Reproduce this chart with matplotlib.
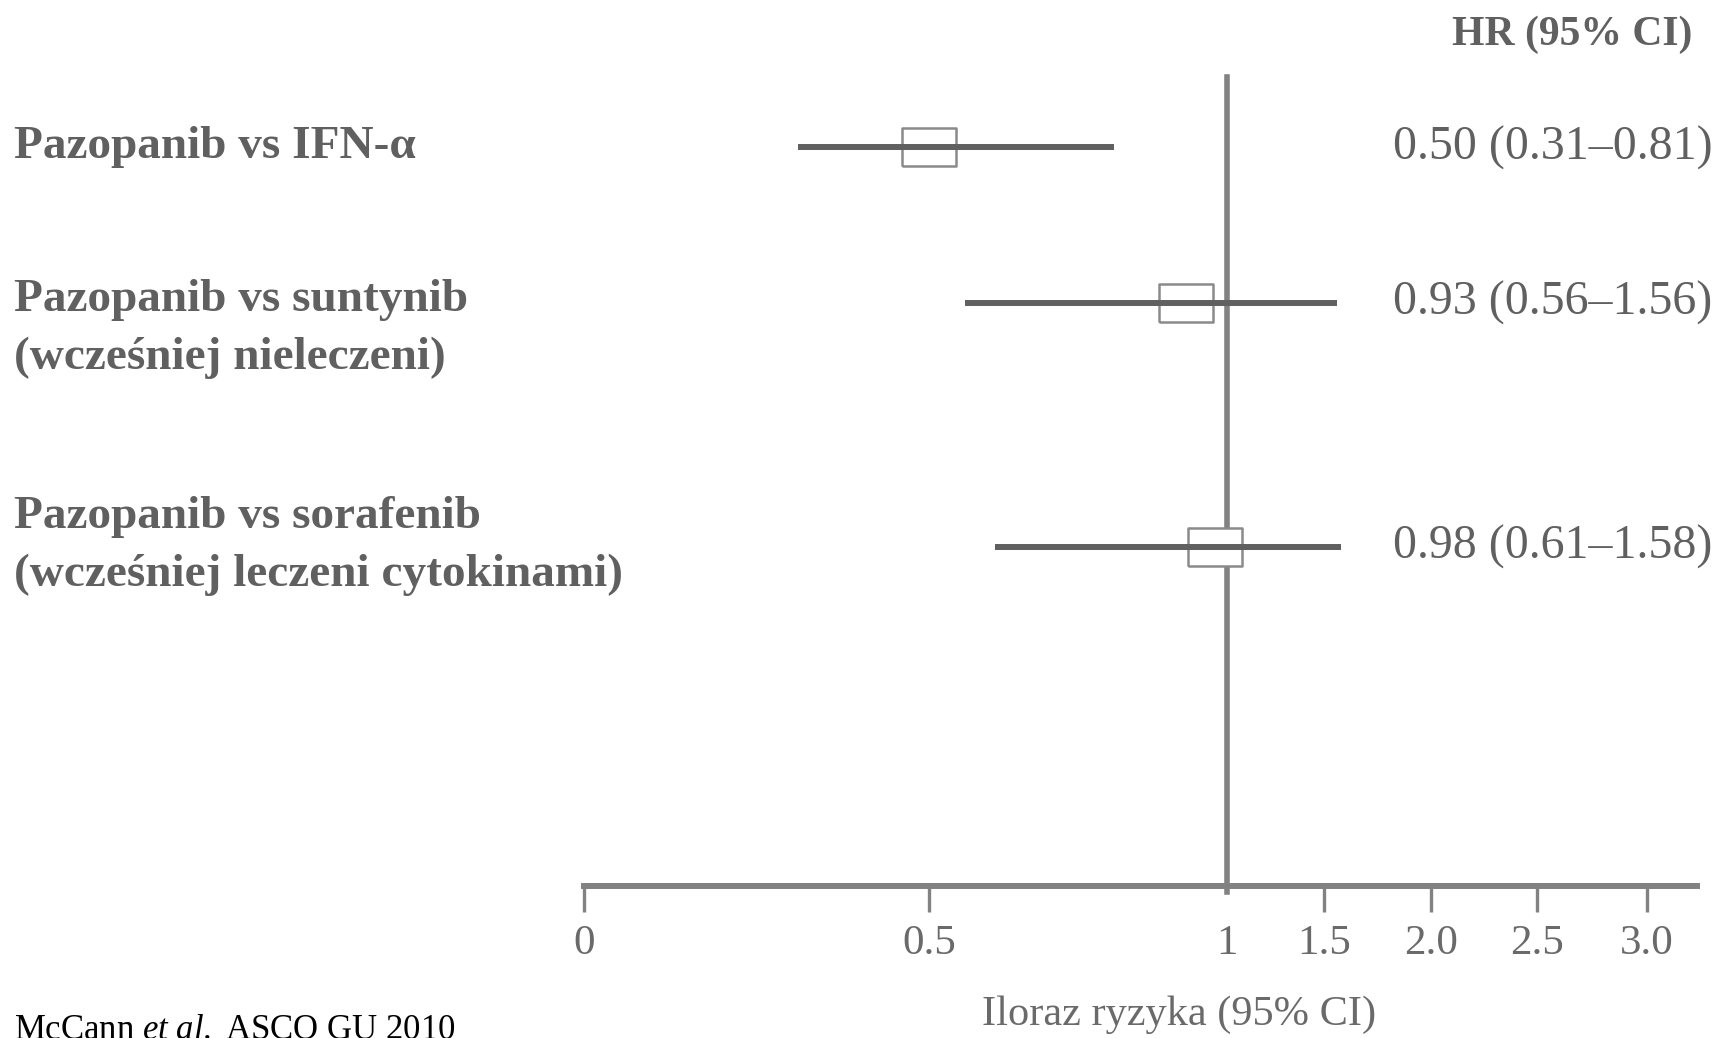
import numpy as np
import matplotlib.pyplot as plt

# Forest plot data
labels = ['Pazopanib vs IFN-α',
          'Pazopanib vs suntynib\n(wcześniej nieleczeni)',
          'Pazopanib vs sorafenib\n(wcześniej leczeni cytokinami)']
hr = [0.50, 0.93, 0.98]
ci_low = [0.31, 0.56, 0.61]
ci_high = [0.81, 1.56, 1.58]
hr_text = ['0.50 (0.31–0.81)', '0.93 (0.56–1.56)', '0.98 (0.61–1.58)']

tick_vals = [0, 0.5, 1, 1.5, 2.0, 2.5, 3.0]
tick_labels = ['0', '0.5', '1', '1.5', '2.0', '2.5', '3.0']

# piecewise-linear axis: stretched below 1, compressed above
knot_vals = [0, 0.5, 1, 1.5, 2.0, 2.5, 3.0, 4.0]
knot_pos = [0, 315, 587, 675, 773, 870, 970, 1168]


def fwd(x):
    return np.interp(x, knot_vals, knot_pos)


def inv(y):
    return np.interp(y, knot_pos, knot_vals)


row_y = [0.913, 0.721, 0.419]
label_y = [0.913, 0.6885, 0.4203]

plt.rcParams['mathtext.fontset'] = 'custom'
plt.rcParams['mathtext.it'] = 'Liberation Serif:italic'
plt.rcParams['mathtext.rm'] = 'Liberation Serif'

W, H = 1719, 1038
fig = plt.figure(figsize=(W / 100, H / 100), dpi=100)
ax = fig.add_axes([584 / W, 1 - 886 / H, (1697 - 584) / W, (886 - 77) / H])
ax.set_xscale('function', functions=(fwd, inv))
ax.set_xlim(0, 3.23)
ax.set_ylim(0, 1)

serif = ['Liberation Serif', 'DejaVu Serif']
grey_line = '#828282'
grey_dark = '#606060'


def fig_y(y):
    # axes fraction -> figure fraction
    return 1 - 77 / H - (1 - y) * (886 - 77) / H


# reference line at HR = 1
ax.axvline(1, ymin=-0.008, ymax=1, color=grey_line, lw=4.0, zorder=1, clip_on=False)

box = [(-1, -0.69), (1, -0.69), (1, 0.69), (-1, 0.69), (-1, -0.69)]
ax.plot(hr, row_y, ls='none', marker=box, markersize=39.5,
        markerfacecolor='white', markeredgecolor='#8a8a8a', markeredgewidth=1.8, zorder=2)
ax.hlines(row_y, ci_low, ci_high, color=grey_dark, lw=4.3, zorder=3)

for s in ['top', 'right', 'left']:
    ax.spines[s].set_visible(False)
ax.spines['bottom'].set_color(grey_line)
ax.spines['bottom'].set_linewidth(4.3)
ax.set_yticks([])
ax.set_xticks(tick_vals)
ax.set_xticklabels(tick_labels, family=serif, fontsize=31, color='#6a6a6a')
ax.tick_params(axis='x', direction='out', length=19, width=2.4, color=grey_line, pad=9)
ax.xaxis.get_major_ticks()[2].tick1line.set_visible(False)

for lab, y in zip(labels, label_y):
    fig.text(14 / W, fig_y(y), lab, family=serif, fontsize=34, fontweight='bold',
             color=grey_dark, va='center', ha='left', linespacing=1.47)

for txt, y in zip(hr_text, row_y):
    fig.text(1393 / W, fig_y(y), txt, family=serif, fontsize=34.5,
             color=grey_dark, va='center', ha='left')

fig.text(1692 / W, 1 - 35 / H, 'HR (95% CI)', family=serif, fontsize=30,
         fontweight='bold', color=grey_dark, va='center', ha='right')
fig.text(1179 / W, 1 - 1015 / H, 'Iloraz ryzyka (95% CI)', family=serif, fontsize=30.5,
         color='#6a6a6a', va='center', ha='center')
fig.text(14 / W, 1 - 1014 / H, 'McCann $\\it{et\\ al.}$ ASCO GU 2010', family=serif,
         fontsize=25, color='black', va='top', ha='left')

fig.savefig('out.png', dpi=100)
